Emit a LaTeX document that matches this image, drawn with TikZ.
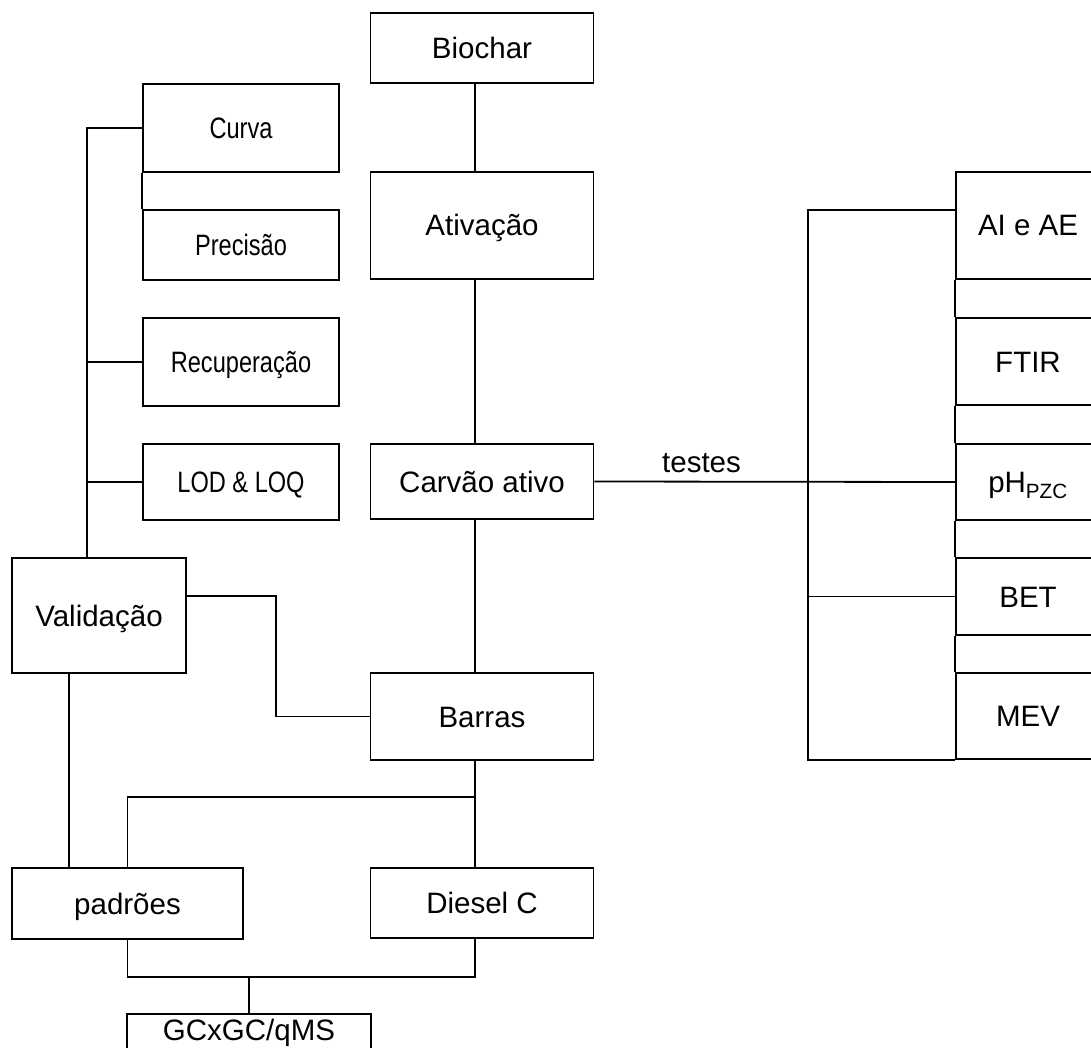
\documentclass[tikz,border=0pt]{standalone}
\usepackage{fontspec}
\setmainfont{Liberation Sans}
\newfontfamily\narrowfont[FakeStretch=0.8]{Liberation Sans}

\begin{document}
\begin{tikzpicture}[x=1pt, y=-1pt, line width=1.8pt,
    box/.style={draw, rectangle, inner sep=0pt, text height=21pt, text depth=0pt,
        font=\fontsize{29.5}{34}\selectfont},
    smallbox/.style={box, minimum width=196pt, font=\narrowfont\fontsize{29.5}{34}\selectfont},
    testbox/.style={box, minimum width=144pt}]
    \useasboundingbox (0,0) rectangle (1091,1048);
    \clip (0,0) rectangle (1091,1048);

    \node [box, minimum width=223pt, minimum height=70pt] (bio) at (482,48) {Biochar};
    \node [box, minimum width=223pt, minimum height=107pt] (ativ) at (482,225.5) {Ativação};
    \node [box, minimum width=223pt, minimum height=75pt] (carvao) at (482,481.5) {Carvão ativo};
    \node [box, minimum width=223pt, minimum height=87pt] (barras) at (482,716.5) {Barras};
    \node [box, minimum width=223pt, minimum height=70pt] (diesel) at (482,903) {Diesel C};

    \node [smallbox, minimum height=88pt] (curva) at (241,128) {Curva};
    \node [smallbox, minimum height=70pt] (precisao) at (241,245) {Precisão};
    \node [smallbox, minimum height=88pt] (recup) at (241,362) {Recuperação};
    \node [smallbox, minimum height=76pt] (lod) at (241,482) {LOD \& LOQ};

    \node [box, minimum width=174pt, minimum height=115pt] (valid) at (99,615.5) {Validação};
    \node [box, minimum width=231pt, minimum height=71pt] (padroes) at (127.5,903.5) {padrões};
    \node [box, minimum width=244pt, minimum height=40pt, text depth=8pt] (gc) at (249,1034) {GCxGC/qMS};

    \node [testbox, minimum height=107pt] (aiae) at (1028,225.5) {AI e AE};
    \node [testbox, minimum height=87pt] (ftir) at (1028,361.5) {FTIR};
    \node [testbox, minimum height=76pt] (ph) at (1028,482) {pH\textsubscript{PZC}};
    \node [testbox, minimum height=77pt] (bet) at (1028,596.5) {BET};
    \node [testbox, minimum height=86pt] (mev) at (1028,716) {MEV};

    \coordinate (trunk) at ([xshift=-12pt]valid.north);
    \coordinate (bend) at (276,596);
    \coordinate (fork) at (475,797);
    \coordinate (join) at (249,977);
    \coordinate (rail) at (808,210);

    \draw ([xshift=-7pt]bio.south) -- ([xshift=-7pt]ativ.north);
    \draw ([xshift=-7pt]ativ.south) -- ([xshift=-7pt]carvao.north);
    \draw ([xshift=-7pt]carvao.south) -- ([xshift=-7pt]barras.north);
    \draw ([xshift=-7pt]barras.south) -- ([xshift=-7pt]diesel.north);

    \draw (curva.west) -| (trunk);
    \draw (recup.west) -- (recup.west -| trunk);
    \draw (lod.west) -- (lod.west -| trunk);
    \draw (curva.south west) -- (precisao.north west);

    \draw (valid.east |- bend) -- (bend) |- (barras.west);
    \draw ([xshift=-30pt]valid.south) -- ([xshift=-30pt]valid.south |- padroes.north);
    \draw (fork) -| (padroes.north);
    \draw (padroes.south) |- (join) -| ([xshift=-7pt]diesel.south);
    \draw (join) -- (gc.north);

    \draw (carvao.east) -- (ph.west)
        node [pos=0.297, anchor=south, inner sep=8pt, font=\fontsize{29.5}{34}\selectfont] (testes) {testes};
    \draw (aiae.west |- rail) -- (rail) |- (mev.south west);
    \draw (bet.west) -- (bet.west -| rail);
    \draw (aiae.south west) -- (ftir.north west);
    \draw (ftir.south west) -- (ph.north west);
    \draw (ph.south west) -- (bet.north west);
    \draw (bet.south west) -- (mev.north west);
\end{tikzpicture}
\end{document}
